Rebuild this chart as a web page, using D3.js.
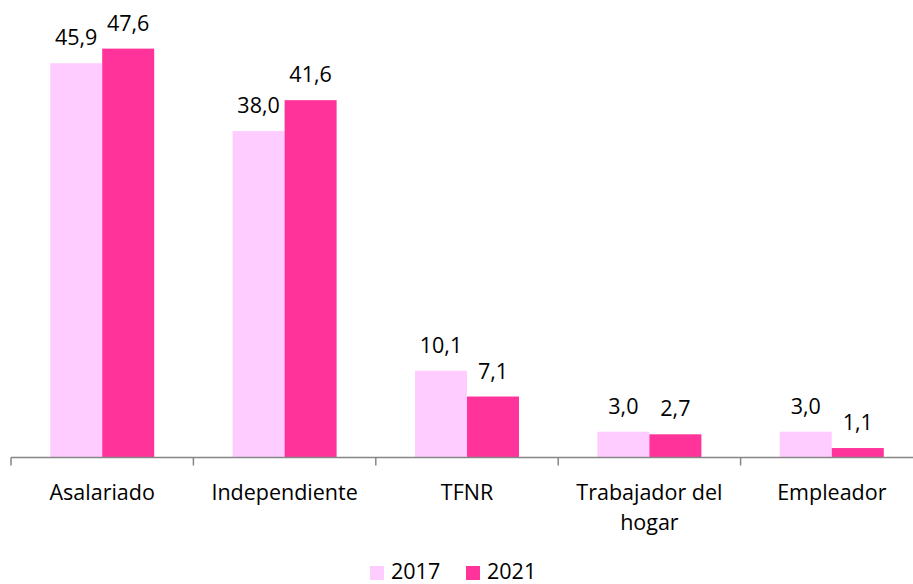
<!DOCTYPE html>
<html><head><meta charset="utf-8">
<script src="https://cdn.jsdelivr.net/npm/d3@7"></script>
<style>body{margin:0;background:#fff}svg{display:block}text{font-family:"Open Sans",sans-serif;fill:#000}</style>
</head><body><svg id="c" width="913" height="584"></svg>
<script>
const categories = ["Asalariado","Independiente","TFNR","Trabajador del hogar","Empleador"];
const categoryLines = [["Asalariado"],["Independiente"],["TFNR"],["Trabajador del","hogar"],["Empleador"]];
const series = ["2017","2021"];
const values2017 = [45.9,38.0,10.1,3.0,3.0];
const values2021 = [47.6,41.6,7.1,2.7,1.1];
const colors = ["#FFCCFF","#FF3399"];

const svg = d3.select("#c");
const x0 = 11, plotW = 182.4*5, axisY = 457.5;
const x = d3.scaleBand().domain(categories).range([x0, x0+plotW]).paddingInner(0).paddingOuter(0);
const xs = d3.scaleBand().domain(series).range([0, 104]);
const y = d3.scaleLinear().domain([0, 50]).range([axisY, axisY - 50*8.59]);
const fmt = v => d3.format(".1f")(v).replace(".", ",");
const data = categories.map((c,i)=>({c, vals:[values2017[i], values2021[i]]}));
const fs = 21.5;

const g = svg.append("g");
data.forEach(d => {
  const cx = x(d.c) + x.bandwidth()/2 - 52;
  d.vals.forEach((v,j) => {
    const bx = cx + xs(series[j]);
    g.append("rect").attr("x", bx).attr("y", y(v)).attr("width", xs.bandwidth()).attr("height", axisY - y(v)).attr("fill", colors[j]);
    g.append("text").attr("x", bx + xs.bandwidth()/2).attr("y", y(v) - 18).attr("text-anchor","middle").attr("font-size", fs).text(fmt(v));
  });
});

// axis
const ax = svg.append("g");
ax.append("line").attr("x1", x0).attr("x2", 913).attr("y1", axisY).attr("y2", axisY).attr("stroke","#868686").attr("stroke-width",1.5);
for (let i=0;i<=5;i++){
  const tx = x0 + i*x.step();
  ax.append("line").attr("x1", tx).attr("x2", tx).attr("y1", axisY).attr("y2", axisY+8).attr("stroke","#868686").attr("stroke-width",1.5);
}
categories.forEach((c,i)=>{
  categoryLines[i].forEach((ln,k)=>{
    ax.append("text").attr("x", x(c)+x.bandwidth()/2).attr("y", 500 + k*30).attr("text-anchor","middle").attr("font-size",fs).text(ln);
  });
});

// legend
const lg = svg.append("g");
const lx = [370, 466];
series.forEach((s,j)=>{
  lg.append("rect").attr("x", lx[j]).attr("y", 566).attr("width", 14).attr("height", 14).attr("fill", colors[j]);
  lg.append("text").attr("x", lx[j]+21).attr("y", 579).attr("font-size", fs).text(s);
});
</script></body></html>
